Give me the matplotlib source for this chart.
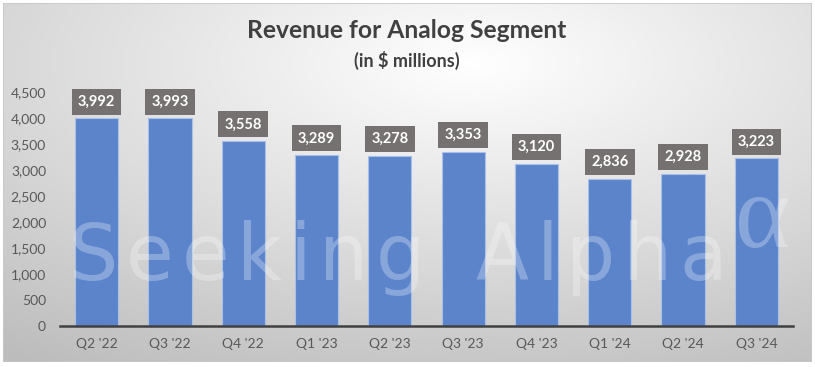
import numpy as np
import matplotlib
matplotlib.use("Agg")
import matplotlib.pyplot as plt
from matplotlib.patches import Rectangle

quarters = ["Q2 '22", "Q3 '22", "Q4 '22", "Q1 '23", "Q2 '23",
            "Q3 '23", "Q4 '23", "Q1 '24", "Q2 '24", "Q3 '24"]
revenue = [3992, 3993, 3558, 3289, 3278, 3353, 3120, 2836, 2928, 3223]
yticks = [0, 500, 1000, 1500, 2000, 2500, 3000, 3500, 4000, 4500]

W, H = 815, 367
plt.rcParams['font.family'] = ['Lato', 'DejaVu Sans']

fig = plt.figure(figsize=(W / 100, H / 100), dpi=100)
fig.patch.set_facecolor('white')

# background gradient (light centre near the title, grey corners)
bg = fig.add_axes([3 / W, 5 / H, 809 / W, 359 / H])
yy, xx = np.mgrid[0:359, 0:809]
d = np.sqrt(((xx - 470) / 809) ** 2 + ((yy - 60) / 359) ** 2)
g = np.clip(1.0 - 0.25 * d / 0.95, 0.74, 1.0)
bg.imshow(np.dstack([g, g, g]), aspect='auto', extent=[0, 1, 0, 1], origin='upper')
bg.set_xlim(0, 1)
bg.set_ylim(0, 1)
bg.axis('off')
bg.add_patch(Rectangle((0, 0), 1, 1, transform=bg.transAxes, fill=False,
                       edgecolor='#c8c8c8', lw=1.2))

ax = fig.add_axes([60 / W, 41 / H, 733 / W, 234 / H])
ax.patch.set_alpha(0)
x = np.arange(len(quarters))
ax.bar(x, revenue, width=0.59, color='#5b84cb', edgecolor='#a9c0e8', linewidth=0.8, zorder=2)

for xi, v in zip(x, revenue):
    ax.annotate(f"{v:,}", (xi, v), xytext=(0, 12), textcoords='offset points',
                ha='center', va='center', color='white', fontsize=10.5, fontweight='bold',
                bbox=dict(boxstyle='square,pad=0.42', fc='#767171', ec='none'), zorder=4)

ax.set_xlim(-0.5, len(quarters) - 0.5)
ax.set_ylim(0, 4500)
ax.set_yticks(yticks)
ax.set_yticklabels([f"{t:,}" for t in yticks])
ax.set_xticks(x)
ax.set_xticklabels(quarters)
ax.tick_params(axis='both', length=0, labelsize=10, colors='#595959')
ax.tick_params(axis='y', pad=10)
ax.tick_params(axis='x', pad=9)
for s in ['top', 'right', 'left']:
    ax.spines[s].set_visible(False)
ax.spines['bottom'].set_color('#404040')
ax.spines['bottom'].set_linewidth(1.8)
ax.spines['bottom'].set_zorder(5)

fig.text(407 / W, 1 - 31 / H, "Revenue for Analog Segment", ha='center', va='center',
         fontsize=17.7, fontweight='bold', color='#404040')
fig.text(407 / W, 1 - 60 / H, "(in $ millions)", ha='center', va='center',
         fontsize=13, fontweight='bold', color='#404040')

# watermark, letters spread out to the reference width
wm = "Seeking Alpha"
wm_font = dict(fontsize=56, family='DejaVu Sans')
renderer = fig.canvas.get_renderer()
widths = []
for ch in wm:
    t = fig.text(0, 0, ch if ch != " " else "n", **wm_font)
    widths.append(t.get_window_extent(renderer).width)
    t.remove()
widths[wm.index(" ")] *= 0.7
extra = (658 - sum(widths)) / (len(wm) - 1)
xpos = 69
for ch, w in zip(wm, widths):
    if ch != " ":
        fig.text(xpos / W, 1 - 280 / H, ch, ha='left', va='baseline',
                 color='white', alpha=0.28, zorder=10, **wm_font)
    xpos += w + extra
fig.text(735 / W, 1 - 247 / H, "\u03b1", ha='left', va='baseline',
         fontsize=76, family='Liberation Serif', color='white', alpha=0.28, zorder=10,
         clip_on=True, clip_box=bg.bbox)

fig.savefig("out.png", dpi=100)
